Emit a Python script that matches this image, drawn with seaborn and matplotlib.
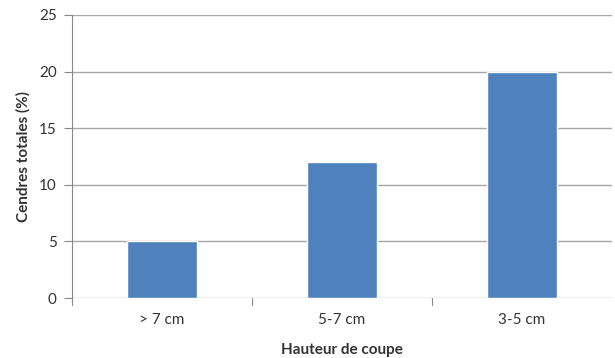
import matplotlib
matplotlib.use("Agg")
import matplotlib.pyplot as plt
import seaborn as sns
import pandas as pd

categories = ["> 7 cm", "5-7 cm", "3-5 cm"]
values = [5, 12, 20]
y_ticks = [0, 5, 10, 15, 20, 25]

sns.set_style("white")
plt.rcParams["font.family"] = ["Lato", "DejaVu Sans"]

df = pd.DataFrame({"Hauteur de coupe": categories, "Cendres totales (%)": values})

W, H = 615, 358
fig = plt.figure(figsize=(W / 100, H / 100), dpi=100)
left, right, top, bottom = 72, 612, 15, 298
ax = fig.add_axes([left / W, 1 - bottom / H, (right - left) / W, (bottom - top) / H])

sns.barplot(data=df, x="Hauteur de coupe", y="Cendres totales (%)",
            color="#4F81BD", saturation=1, width=0.39, ax=ax, zorder=3)

ax.set_ylim(0, 25)
ax.set_xlim(-0.5, 2.5)
ax.set_yticks(y_ticks)
ax.set_yticklabels([str(t) for t in y_ticks], fontsize=11, color="#333333")
ax.tick_params(axis="x", labelsize=11, labelcolor="#333333", length=0, pad=11)
ax.tick_params(axis="y", length=6, width=0.8, color="#888888", pad=5, left=True)

# horizontal grid lines
for t in y_ticks:
    ax.axhline(t, color="#a6a6a6", lw=1.0, zorder=1)

# category separator ticks below the x axis
for xb in [-0.5, 0.5, 1.5]:
    ax.plot([xb, xb], [0, -0.6], color="#888888", lw=0.8, clip_on=False, zorder=2)

for side in ["top", "right", "bottom"]:
    ax.spines[side].set_visible(False)
ax.spines["left"].set_color("#888888")
ax.spines["left"].set_linewidth(0.8)

ax.set_xlabel("Hauteur de coupe", fontsize=11, fontweight="bold", color="#333333")
ax.set_ylabel("Cendres totales (%)", fontsize=11, fontweight="bold", color="#333333")
ax.xaxis.set_label_coords(0.5, (bottom - 350) / (bottom - top))
ax.yaxis.set_label_coords((23 - left) / (right - left), 0.5)
ax.xaxis.label.set_va("center")
ax.yaxis.label.set_va("center")

fig.savefig("out.png", dpi=100)
